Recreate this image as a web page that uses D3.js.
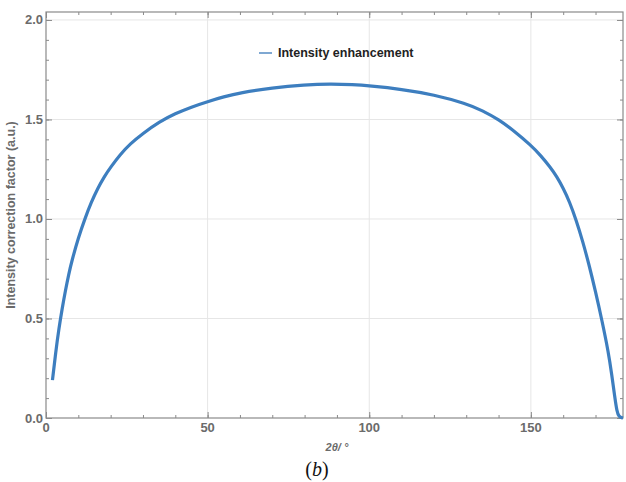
<!DOCTYPE html>
<html>
<head>
<meta charset="utf-8">
<script src="https://cdn.jsdelivr.net/npm/d3@7"></script>
<style>
  body { margin: 0; background: #fff; }
  svg text { font-family: "Liberation Sans", Arial, sans-serif; }
</style>
</head>
<body>
<svg id="vis" width="626" height="482"></svg>
<script>
// values
var angles = [2, 3, 4, 5, 6, 7, 8, 10, 12, 14, 16, 18, 20, 23, 26, 30, 35, 40, 45, 50, 55, 60, 70, 80, 88,
  95, 100, 110, 120, 130, 135, 140, 145, 150, 153, 156, 158, 160, 162, 164, 166, 168, 170, 172, 174, 175, 176, 176.6, 177.2, 178.5];
var factors = [0.19, 0.33, 0.45, 0.55, 0.64, 0.72, 0.79, 0.905, 1.0, 1.084, 1.154, 1.212, 1.26, 1.3245, 1.377, 1.43, 1.488, 1.53, 1.563, 1.59, 1.614, 1.634, 1.659, 1.674, 1.679,
  1.675, 1.669, 1.652, 1.625, 1.58, 1.545, 1.50, 1.44, 1.37, 1.32, 1.26, 1.213, 1.155, 1.085, 0.995, 0.89, 0.77, 0.635, 0.49, 0.33, 0.22, 0.10, 0.035, 0.005, 0.0];
var xMajor = [0, 50, 100, 150];
var yMajor = [0.0, 0.5, 1.0, 1.5, 2.0];
var seriesName = "Intensity enhancement";

var data = angles.map(function(a, i) { return {x: a, y: factors[i]}; });

var svg = d3.select("svg#vis");

var attr = {
  left: 46,
  right: 623,
  top: 12,
  bottom: 418
};

var x = d3.scaleLinear().domain([0, 178.5]).range([attr.left, attr.right]);
var y = d3.scaleLinear().domain([0, 2.04]).range([attr.bottom, attr.top]);

var frameColor = "#8a8a8a";
var labelColor = "#6b6b6b";

// grid lines
svg.append("g").selectAll("line.vgrid")
  .data(xMajor.filter(d => d > 0))
  .enter().append("line")
  .attr("x1", d => x(d)).attr("x2", d => x(d))
  .attr("y1", attr.top).attr("y2", attr.bottom)
  .style("stroke", "#e6e6e6").style("stroke-width", 1);

svg.append("g").selectAll("line.hgrid")
  .data(yMajor.filter(d => d > 0))
  .enter().append("line")
  .attr("x1", attr.left).attr("x2", attr.right)
  .attr("y1", d => y(d)).attr("y2", d => y(d))
  .style("stroke", "#e6e6e6").style("stroke-width", 1);

// frame with inward ticks
function frameAxis(axis, tr, major, minorVals) {
  var gm = svg.append("g").attr("transform", tr)
    .call(axis.tickValues(minorVals).tickSize(-3).tickFormat(""));
  gm.selectAll("path").remove();
  gm.selectAll("line").style("stroke", frameColor);
  var gM = svg.append("g").attr("transform", tr)
    .call(axis.tickValues(major).tickSize(-6).tickFormat(""));
  gM.selectAll("path").remove();
  gM.selectAll("line").style("stroke", frameColor);
}

var xMinor = d3.range(0, 180, 10);
var yMinor = d3.range(0, 2.04, 0.1);

frameAxis(d3.axisBottom(x), "translate(0," + attr.bottom + ")", xMajor, xMinor);
frameAxis(d3.axisTop(x), "translate(0," + attr.top + ")", xMajor, xMinor);
frameAxis(d3.axisLeft(y), "translate(" + attr.left + ",0)", yMajor, yMinor);
frameAxis(d3.axisRight(y), "translate(" + attr.right + ",0)", yMajor, yMinor);

svg.append("rect")
  .attr("x", attr.left).attr("y", attr.top)
  .attr("width", attr.right - attr.left).attr("height", attr.bottom - attr.top)
  .style("fill", "none").style("stroke", frameColor).style("stroke-width", 1.2);

// tick labels
svg.append("g").selectAll("text")
  .data(xMajor)
  .enter().append("text")
  .attr("x", d => x(d)).attr("y", attr.bottom + 14)
  .attr("text-anchor", "middle")
  .style("font-size", "13px").style("font-weight", "bold").style("fill", labelColor)
  .text(d => d);

svg.append("g").selectAll("text")
  .data(yMajor)
  .enter().append("text")
  .attr("x", attr.left - 3).attr("y", d => y(d) + 4.5)
  .attr("text-anchor", "end")
  .style("font-size", "13px").style("font-weight", "bold").style("fill", labelColor)
  .text(d => d3.format(".1f")(d));

// axis titles
svg.append("text")
  .attr("transform", "translate(15,215) rotate(-90)")
  .attr("text-anchor", "middle")
  .style("font-size", "12.5px").style("font-weight", "bold").style("fill", labelColor)
  .text("Intensity correction factor (a.u.)");

svg.append("text")
  .attr("x", 337).attr("y", 451)
  .attr("text-anchor", "middle")
  .style("font-size", "11px").style("font-weight", "bold").style("font-style", "italic")
  .style("fill", labelColor)
  .text("2θ/ °");

var cap = svg.append("text")
  .attr("x", 317).attr("y", 476)
  .attr("text-anchor", "middle")
  .style("font-family", "'Liberation Serif', 'Times New Roman', serif")
  .style("font-size", "20px").style("fill", "#111");
cap.append("tspan").text("(");
cap.append("tspan").style("font-style", "italic").text("b");
cap.append("tspan").text(")");

// curve
var line = d3.line()
  .x(d => x(d.x))
  .y(d => y(d.y))
  .curve(d3.curveBasis);

svg.append("path")
  .datum(data)
  .attr("d", line)
  .style("fill", "none")
  .style("stroke", "#3d7ebf")
  .style("stroke-width", 3.2)
  .style("stroke-linejoin", "round");

// legend
svg.append("line")
  .attr("x1", 259).attr("x2", 272).attr("y1", 53).attr("y2", 53)
  .style("stroke", "#7fa8d2").style("stroke-width", 2);
svg.append("text")
  .attr("x", 278).attr("y", 57)
  .style("font-size", "12.5px").style("font-weight", "bold").style("fill", "#222")
  .text(seriesName);
</script>
</body>
</html>
